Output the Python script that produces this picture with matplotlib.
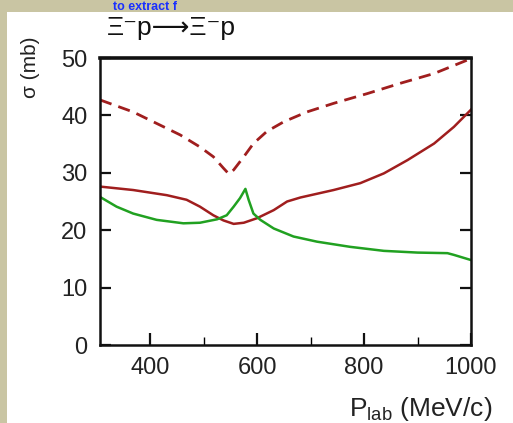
import matplotlib
matplotlib.use('Agg')
import matplotlib.pyplot as plt

# Xi- p -> Xi- p cross sections
dash_p = [306, 368, 412, 456, 493, 518, 537, 547, 556, 575, 593, 618, 650,
          693, 743, 806, 868, 931, 1000]
dash_s = [42.7, 40.6, 38.6, 36.6, 34.5, 32.8, 30.8, 29.8, 30.5, 32.8, 35.1,
          37.2, 38.9, 40.6, 42.1, 43.8, 45.6, 47.3, 49.9]

red_p = [306, 368, 431, 468, 493, 518, 537, 556, 575, 600, 631, 656, 681,
         743, 793, 837, 881, 931, 968, 1000]
red_s = [27.6, 27.0, 26.1, 25.3, 24.1, 22.6, 21.7, 21.1, 21.3, 22.1, 23.5,
         25.0, 25.7, 27.0, 28.2, 29.9, 32.2, 35.1, 38.0, 41.0]

green_p = [306, 337, 368, 412, 462, 493, 525, 543, 556, 568, 578, 584, 593,
           606, 631, 668, 712, 774, 837, 900, 956, 968, 1000]
green_s = [25.8, 24.1, 22.9, 21.8, 21.2, 21.3, 21.9, 22.6, 24.1, 25.6, 27.2,
           25.3, 22.9, 21.8, 20.3, 18.9, 18.0, 17.1, 16.4, 16.1, 16.0, 15.7,
           14.8]

W, H = 513, 423
plt.rcParams['font.family'] = ['Liberation Sans', 'DejaVu Sans']
plt.rcParams['mathtext.fontset'] = 'custom'
plt.rcParams['mathtext.rm'] = 'Liberation Sans'

fig = plt.figure(figsize=(W / 100, H / 100), dpi=100)
fig.patch.set_facecolor('white')

# slide background: beige strips along the top and left edge
top = fig.add_axes([0, 1 - 12 / H, 1, 12 / H])
side = fig.add_axes([0, 0, 7 / W, 1])
for bg in (top, side):
    bg.set_facecolor('#c9c5a3')
    bg.set_xticks([])
    bg.set_yticks([])
    for sp in bg.spines.values():
        sp.set_visible(False)
# heading of the slide, mostly hidden in the reference; kept small here
fig.text(113 / W, 1 - 10.5 / H, 'to extract f', color='#1a30ff',
         fontsize=9, fontweight='bold', ha='left', va='baseline')

ax = fig.add_axes([100 / W, 1 - 345 / H, 371 / W, 287 / H])
ax.set_facecolor('white')

red = '#a01e1e'
green = '#21a121'
ax.plot(dash_p, dash_s, color=red, lw=2.0, dashes=(4.4, 2.6))
ax.plot(red_p, red_s, color=red, lw=1.8)
ax.plot(green_p, green_s, color=green, lw=1.8)

ax.set_xlim(306, 1000)
ax.set_ylim(0, 50)
ax.set_xticks([400, 600, 800, 1000])
ax.set_xticks([500, 700, 900], minor=True)
ax.set_yticks([0, 10, 20, 30, 40, 50])
ax.tick_params(axis='both', which='major', direction='in', labelsize=17,
               width=1.6, color='#111111', labelcolor='#222222')
ax.tick_params(axis='x', which='major', length=9, pad=9, top=False)
ax.tick_params(axis='x', which='minor', direction='in', length=6,
               width=1.0, top=False)
ax.tick_params(axis='y', which='major', length=8, pad=9, right=True)
for name, sp in ax.spines.items():
    sp.set_linewidth(2.6 if name == 'top' else 1.8)
    sp.set_color('#111111')

fig.text(107 / W, 1 - 28 / H, 'Ξ⁻p⟶Ξ⁻p', fontsize=19, ha='left',
         va='center', color='#111111')
fig.text(30 / W, 1 - 67 / H, 'σ (mb)', fontsize=15, rotation=90,
         ha='center', va='center', color='#222222')
fig.text(492 / W, 1 - 409 / H, r'P$_{\rm lab}$ (MeV/c)', fontsize=19,
         ha='right', va='center', color='#222222')

fig.savefig('out.png', dpi=100, facecolor=fig.get_facecolor())
